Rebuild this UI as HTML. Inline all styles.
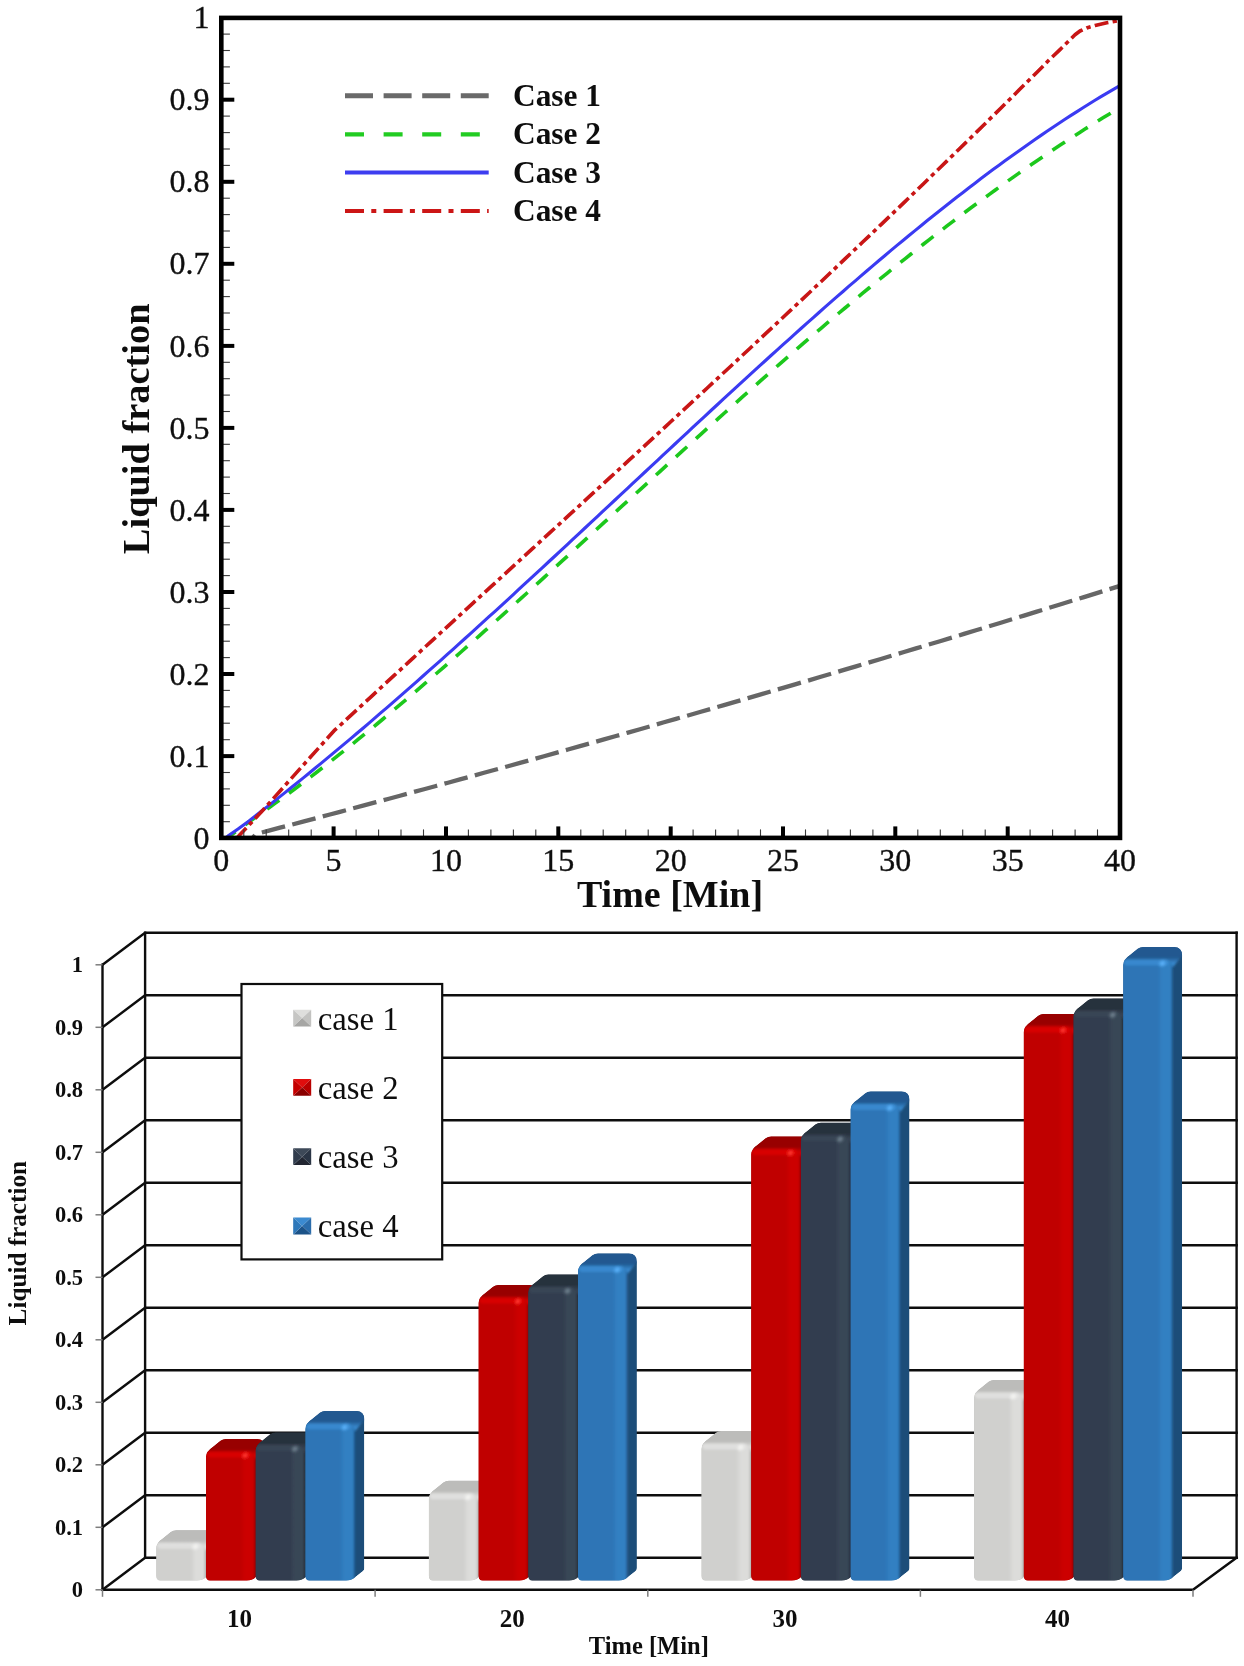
<!DOCTYPE html>
<html><head><meta charset="utf-8"><title>Liquid fraction</title>
<style>
html,body{margin:0;padding:0;background:#fff;}
body{width:1244px;height:1666px;overflow:hidden;font-family:"Liberation Serif",serif;}
svg{display:block;}
</style></head><body>
<svg width="1244" height="1666" viewBox="0 0 1244 1666">
<rect width="1244" height="1666" fill="#fff"/>
<defs><filter id="soft" x="0" y="0" width="100%" height="100%" filterUnits="objectBoundingBox"><feGaussianBlur stdDeviation="0.72"/></filter></defs>
<g filter="url(#soft)">
<rect width="1244" height="1666" fill="#fff"/>
<g id="top">
<clipPath id="pc"><rect x="221.3" y="17.9" width="898.7" height="820.0"/></clipPath>
<g clip-path="url(#pc)" fill="none" stroke-linecap="butt" stroke-linejoin="round">
<path d="M252.5,838.2 L256.0,834.0 L268.0,830.9 L280.0,827.7 L292.0,824.6 L304.0,821.4 L316.0,818.2 L328.0,815.0 L340.0,811.8 L352.0,808.6 L364.0,805.4 L376.0,802.2 L388.0,799.0 L400.0,795.7 L412.0,792.5 L424.0,789.2 L436.0,786.0 L448.0,782.7 L460.0,779.4 L472.0,776.1 L484.0,772.8 L496.0,769.5 L508.0,766.2 L520.0,762.9 L532.0,759.6 L544.0,756.2 L556.0,752.9 L568.0,749.5 L580.0,746.1 L592.0,742.8 L604.0,739.4 L616.0,736.0 L628.0,732.6 L640.0,729.2 L652.0,725.8 L664.0,722.3 L676.0,718.9 L688.0,715.5 L700.0,712.0 L712.0,708.6 L724.0,705.1 L736.0,701.6 L748.0,698.1 L760.0,694.6 L772.0,691.1 L784.0,687.6 L796.0,684.1 L808.0,680.6 L820.0,677.0 L832.0,673.5 L844.0,669.9 L856.0,666.4 L868.0,662.8 L880.0,659.2 L892.0,655.6 L904.0,652.0 L916.0,648.4 L928.0,644.8 L940.0,641.2 L952.0,637.6 L964.0,633.9 L976.0,630.3 L988.0,626.6 L1000.0,623.0 L1012.0,619.3 L1024.0,615.6 L1036.0,611.9 L1048.0,608.2 L1060.0,604.5 L1072.0,600.8 L1084.0,597.1 L1096.0,593.4 L1108.0,589.6 L1120.0,585.9" stroke="#666666" stroke-width="4.3" stroke-dasharray="24 7.5" stroke-dashoffset="20"/>
<path d="M226.5,838.2 L230.0,836.0 L240.0,828.6 L251.0,820.5 L257.0,816.3 L263.0,812.1 L269.0,807.8 L275.0,803.4 L281.0,799.1 L287.0,794.7 L293.0,790.2 L299.0,785.7 L305.0,781.2 L311.0,776.6 L317.0,772.0 L323.0,767.3 L329.0,762.7 L335.0,757.9 L341.0,753.2 L347.0,748.4 L353.0,743.6 L359.0,738.7 L365.0,733.8 L371.0,728.9 L377.0,724.0 L383.0,719.0 L389.0,714.0 L395.0,708.9 L401.0,703.9 L407.0,698.8 L413.0,693.7 L419.0,688.6 L425.0,683.4 L431.0,678.2 L437.0,673.0 L443.0,667.8 L449.0,662.6 L455.0,657.3 L461.0,652.0 L467.0,646.7 L473.0,641.4 L479.0,636.1 L485.0,630.7 L491.0,625.4 L497.0,620.0 L503.0,614.6 L509.0,609.2 L515.0,603.8 L521.0,598.4 L527.0,593.0 L533.0,587.5 L539.0,582.1 L545.0,576.6 L551.0,571.1 L557.0,565.7 L563.0,560.2 L569.0,554.7 L575.0,549.2 L581.0,543.7 L587.0,538.2 L593.0,532.7 L599.0,527.2 L605.0,521.7 L611.0,516.2 L617.0,510.7 L623.0,505.2 L629.0,499.7 L635.0,494.3 L641.0,488.8 L647.0,483.3 L653.0,477.8 L659.0,472.3 L665.0,466.8 L671.0,461.4 L677.0,455.9 L683.0,450.4 L689.0,445.0 L695.0,439.6 L701.0,434.1 L707.0,428.7 L713.0,423.3 L719.0,417.9 L725.0,412.5 L731.0,407.1 L737.0,401.8 L743.0,396.4 L749.0,391.1 L755.0,385.8 L761.0,380.4 L767.0,375.1 L773.0,369.9 L779.0,364.6 L785.0,359.4 L791.0,354.1 L797.0,348.9 L803.0,343.7 L809.0,338.6 L815.0,333.4 L821.0,328.3 L827.0,323.2 L833.0,318.1 L839.0,313.0 L845.0,308.0 L851.0,302.9 L857.0,297.9 L863.0,292.9 L869.0,288.0 L875.0,283.1 L881.0,278.2 L887.0,273.3 L893.0,268.4 L899.0,263.6 L905.0,258.8 L911.0,254.0 L917.0,249.3 L923.0,244.5 L929.0,239.8 L935.0,235.2 L941.0,230.6 L947.0,225.9 L953.0,221.4 L959.0,216.8 L965.0,212.3 L971.0,207.8 L977.0,203.4 L983.0,199.0 L989.0,194.6 L995.0,190.2 L1001.0,185.9 L1007.0,181.6 L1013.0,177.4 L1019.0,173.1 L1025.0,168.9 L1031.0,164.8 L1037.0,160.7 L1043.0,156.6 L1049.0,152.6 L1055.0,148.5 L1061.0,144.6 L1067.0,140.6 L1073.0,136.7 L1079.0,132.9 L1085.0,129.1 L1091.0,125.3 L1097.0,121.5 L1103.0,117.8 L1109.0,114.2 L1115.0,110.5" stroke="#1fc81f" stroke-width="3.6" stroke-dasharray="15 12" stroke-dashoffset="4"/>
<path d="M225.5,838.2 L228.6,835.5 L238.0,829.0 L249.0,820.9 L255.0,816.2 L261.0,811.6 L267.0,806.9 L273.0,802.2 L279.0,797.4 L285.0,792.6 L291.0,787.8 L297.0,783.0 L303.0,778.1 L309.0,773.2 L315.0,768.3 L321.0,763.4 L327.0,758.4 L333.0,753.4 L339.0,748.4 L345.0,743.4 L351.0,738.4 L357.0,733.3 L363.0,728.2 L369.0,723.1 L375.0,717.9 L381.0,712.7 L387.0,707.6 L393.0,702.4 L399.0,697.1 L405.0,691.9 L411.0,686.6 L417.0,681.3 L423.0,676.0 L429.0,670.7 L435.0,665.4 L441.0,660.1 L447.0,654.7 L453.0,649.3 L459.0,643.9 L465.0,638.5 L471.0,633.1 L477.0,627.6 L483.0,622.2 L489.0,616.7 L495.0,611.3 L501.0,605.8 L507.0,600.3 L513.0,594.8 L519.0,589.2 L525.0,583.7 L531.0,578.2 L537.0,572.6 L543.0,567.1 L549.0,561.5 L555.0,556.0 L561.0,550.4 L567.0,544.8 L573.0,539.2 L579.0,533.6 L585.0,528.0 L591.0,522.4 L597.0,516.8 L603.0,511.2 L609.0,505.6 L615.0,500.0 L621.0,494.4 L627.0,488.8 L633.0,483.2 L639.0,477.6 L645.0,472.0 L651.0,466.4 L657.0,460.8 L663.0,455.2 L669.0,449.6 L675.0,444.0 L681.0,438.4 L687.0,432.8 L693.0,427.2 L699.0,421.6 L705.0,416.1 L711.0,410.5 L717.0,405.0 L723.0,399.4 L729.0,393.9 L735.0,388.4 L741.0,382.9 L747.0,377.4 L753.0,371.9 L759.0,366.4 L765.0,361.0 L771.0,355.5 L777.0,350.1 L783.0,344.7 L789.0,339.3 L795.0,333.9 L801.0,328.5 L807.0,323.2 L813.0,317.8 L819.0,312.5 L825.0,307.2 L831.0,301.9 L837.0,296.7 L843.0,291.5 L849.0,286.2 L855.0,281.1 L861.0,275.9 L867.0,270.8 L873.0,265.6 L879.0,260.5 L885.0,255.5 L891.0,250.4 L897.0,245.4 L903.0,240.5 L909.0,235.5 L915.0,230.6 L921.0,225.7 L927.0,220.8 L933.0,216.0 L939.0,211.2 L945.0,206.5 L951.0,201.7 L957.0,197.0 L963.0,192.4 L969.0,187.7 L975.0,183.2 L981.0,178.6 L987.0,174.1 L993.0,169.6 L999.0,165.2 L1005.0,160.8 L1011.0,156.5 L1017.0,152.2 L1023.0,147.9 L1029.0,143.7 L1035.0,139.5 L1041.0,135.4 L1047.0,131.3 L1053.0,127.2 L1059.0,123.3 L1065.0,119.3 L1071.0,115.4 L1077.0,111.6 L1083.0,107.8 L1089.0,104.0 L1095.0,100.3 L1101.0,96.7 L1107.0,93.1 L1113.0,89.6 L1119.0,86.1" stroke="#3a3af2" stroke-width="3.1"/>
<path d="M236.8,838.2 L240.1,834.5 L261.0,812.3 L291.6,778.1 L318.1,748.6 L335.0,729.8 L341.0,724.5 L347.0,718.9 L353.0,713.4 L359.0,707.9 L365.0,702.3 L371.0,696.8 L377.0,691.3 L383.0,685.7 L389.0,680.2 L395.0,674.7 L401.0,669.2 L407.0,663.7 L413.0,658.1 L419.0,652.6 L425.0,647.1 L431.0,641.6 L437.0,636.1 L443.0,630.6 L449.0,625.1 L455.0,619.6 L461.0,614.1 L467.0,608.6 L473.0,603.1 L479.0,597.6 L485.0,592.1 L491.0,586.6 L497.0,581.2 L503.0,575.7 L509.0,570.2 L515.0,564.7 L521.0,559.2 L527.0,553.7 L533.0,548.2 L539.0,542.7 L545.0,537.2 L551.0,531.7 L557.0,526.2 L563.0,520.7 L569.0,515.2 L575.0,509.7 L581.0,504.2 L587.0,498.7 L593.0,493.2 L599.0,487.7 L605.0,482.2 L611.0,476.7 L617.0,471.2 L623.0,465.7 L629.0,460.2 L635.0,454.7 L641.0,449.2 L647.0,443.6 L653.0,438.1 L659.0,432.6 L665.0,427.1 L671.0,421.5 L677.0,416.0 L683.0,410.4 L689.0,404.9 L695.0,399.3 L701.0,393.8 L707.0,388.2 L713.0,382.7 L719.0,377.1 L725.0,371.5 L731.0,366.0 L737.0,360.4 L743.0,354.8 L749.0,349.2 L755.0,343.6 L761.0,338.0 L767.0,332.4 L773.0,326.8 L779.0,321.2 L785.0,315.5 L791.0,309.9 L797.0,304.3 L803.0,298.6 L809.0,293.0 L815.0,287.3 L821.0,281.7 L827.0,276.0 L833.0,270.3 L839.0,264.6 L845.0,258.9 L851.0,253.2 L857.0,247.5 L863.0,241.8 L869.0,236.1 L875.0,230.4 L881.0,224.6 L887.0,218.9 L893.0,213.1 L899.0,207.4 L905.0,201.6 L911.0,195.8 L917.0,190.0 L923.0,184.2 L929.0,178.4 L935.0,172.6 L941.0,166.8 L947.0,160.9 L953.0,155.1 L959.0,149.2 L965.0,143.4 L971.0,137.5 L977.0,131.6 L983.0,125.7 L989.0,119.8 L995.0,113.9 L1001.0,108.0 L1007.0,102.0 L1013.0,96.1 L1019.0,90.1 L1025.0,84.1 L1031.0,78.2 L1037.0,72.2 L1043.0,66.2 L1049.0,60.1 L1060.0,49.6 L1070.2,39.5 L1075.0,34.8 L1080.0,31.0 L1086.6,28.0 L1095.2,25.4 L1106.8,22.7 L1120.0,20.3" stroke="#c81212" stroke-width="3.6" stroke-dasharray="14 4.3 4.3 4.3"/>
</g>
<g stroke="#000">
<line x1="221.3" y1="821.7" x2="229.9" y2="821.7" stroke-width="1.1" stroke="#3a3a3a"/>
<line x1="221.3" y1="805.3" x2="229.9" y2="805.3" stroke-width="1.1" stroke="#3a3a3a"/>
<line x1="221.3" y1="788.9" x2="229.9" y2="788.9" stroke-width="1.1" stroke="#3a3a3a"/>
<line x1="221.3" y1="772.5" x2="229.9" y2="772.5" stroke-width="1.1" stroke="#3a3a3a"/>
<line x1="221.3" y1="756.1" x2="234.3" y2="756.1" stroke-width="4"/>
<line x1="221.3" y1="739.7" x2="229.9" y2="739.7" stroke-width="1.1" stroke="#3a3a3a"/>
<line x1="221.3" y1="723.2" x2="229.9" y2="723.2" stroke-width="1.1" stroke="#3a3a3a"/>
<line x1="221.3" y1="706.8" x2="229.9" y2="706.8" stroke-width="1.1" stroke="#3a3a3a"/>
<line x1="221.3" y1="690.4" x2="229.9" y2="690.4" stroke-width="1.1" stroke="#3a3a3a"/>
<line x1="221.3" y1="674.0" x2="234.3" y2="674.0" stroke-width="4"/>
<line x1="221.3" y1="657.6" x2="229.9" y2="657.6" stroke-width="1.1" stroke="#3a3a3a"/>
<line x1="221.3" y1="641.2" x2="229.9" y2="641.2" stroke-width="1.1" stroke="#3a3a3a"/>
<line x1="221.3" y1="624.8" x2="229.9" y2="624.8" stroke-width="1.1" stroke="#3a3a3a"/>
<line x1="221.3" y1="608.4" x2="229.9" y2="608.4" stroke-width="1.1" stroke="#3a3a3a"/>
<line x1="221.3" y1="592.0" x2="234.3" y2="592.0" stroke-width="4"/>
<line x1="221.3" y1="575.6" x2="229.9" y2="575.6" stroke-width="1.1" stroke="#3a3a3a"/>
<line x1="221.3" y1="559.2" x2="229.9" y2="559.2" stroke-width="1.1" stroke="#3a3a3a"/>
<line x1="221.3" y1="542.8" x2="229.9" y2="542.8" stroke-width="1.1" stroke="#3a3a3a"/>
<line x1="221.3" y1="526.3" x2="229.9" y2="526.3" stroke-width="1.1" stroke="#3a3a3a"/>
<line x1="221.3" y1="509.9" x2="234.3" y2="509.9" stroke-width="4"/>
<line x1="221.3" y1="493.5" x2="229.9" y2="493.5" stroke-width="1.1" stroke="#3a3a3a"/>
<line x1="221.3" y1="477.1" x2="229.9" y2="477.1" stroke-width="1.1" stroke="#3a3a3a"/>
<line x1="221.3" y1="460.7" x2="229.9" y2="460.7" stroke-width="1.1" stroke="#3a3a3a"/>
<line x1="221.3" y1="444.3" x2="229.9" y2="444.3" stroke-width="1.1" stroke="#3a3a3a"/>
<line x1="221.3" y1="427.9" x2="234.3" y2="427.9" stroke-width="4"/>
<line x1="221.3" y1="411.5" x2="229.9" y2="411.5" stroke-width="1.1" stroke="#3a3a3a"/>
<line x1="221.3" y1="395.1" x2="229.9" y2="395.1" stroke-width="1.1" stroke="#3a3a3a"/>
<line x1="221.3" y1="378.7" x2="229.9" y2="378.7" stroke-width="1.1" stroke="#3a3a3a"/>
<line x1="221.3" y1="362.3" x2="229.9" y2="362.3" stroke-width="1.1" stroke="#3a3a3a"/>
<line x1="221.3" y1="345.9" x2="234.3" y2="345.9" stroke-width="4"/>
<line x1="221.3" y1="329.5" x2="229.9" y2="329.5" stroke-width="1.1" stroke="#3a3a3a"/>
<line x1="221.3" y1="313.0" x2="229.9" y2="313.0" stroke-width="1.1" stroke="#3a3a3a"/>
<line x1="221.3" y1="296.6" x2="229.9" y2="296.6" stroke-width="1.1" stroke="#3a3a3a"/>
<line x1="221.3" y1="280.2" x2="229.9" y2="280.2" stroke-width="1.1" stroke="#3a3a3a"/>
<line x1="221.3" y1="263.8" x2="234.3" y2="263.8" stroke-width="4"/>
<line x1="221.3" y1="247.4" x2="229.9" y2="247.4" stroke-width="1.1" stroke="#3a3a3a"/>
<line x1="221.3" y1="231.0" x2="229.9" y2="231.0" stroke-width="1.1" stroke="#3a3a3a"/>
<line x1="221.3" y1="214.6" x2="229.9" y2="214.6" stroke-width="1.1" stroke="#3a3a3a"/>
<line x1="221.3" y1="198.2" x2="229.9" y2="198.2" stroke-width="1.1" stroke="#3a3a3a"/>
<line x1="221.3" y1="181.8" x2="234.3" y2="181.8" stroke-width="4"/>
<line x1="221.3" y1="165.4" x2="229.9" y2="165.4" stroke-width="1.1" stroke="#3a3a3a"/>
<line x1="221.3" y1="149.0" x2="229.9" y2="149.0" stroke-width="1.1" stroke="#3a3a3a"/>
<line x1="221.3" y1="132.6" x2="229.9" y2="132.6" stroke-width="1.1" stroke="#3a3a3a"/>
<line x1="221.3" y1="116.1" x2="229.9" y2="116.1" stroke-width="1.1" stroke="#3a3a3a"/>
<line x1="221.3" y1="99.7" x2="234.3" y2="99.7" stroke-width="4"/>
<line x1="221.3" y1="83.3" x2="229.9" y2="83.3" stroke-width="1.1" stroke="#3a3a3a"/>
<line x1="221.3" y1="66.9" x2="229.9" y2="66.9" stroke-width="1.1" stroke="#3a3a3a"/>
<line x1="221.3" y1="50.5" x2="229.9" y2="50.5" stroke-width="1.1" stroke="#3a3a3a"/>
<line x1="221.3" y1="34.1" x2="229.9" y2="34.1" stroke-width="1.1" stroke="#3a3a3a"/>
<line x1="243.8" y1="837.9" x2="243.8" y2="829.4" stroke-width="1.1" stroke="#3a3a3a"/>
<line x1="266.2" y1="837.9" x2="266.2" y2="829.4" stroke-width="1.1" stroke="#3a3a3a"/>
<line x1="288.7" y1="837.9" x2="288.7" y2="829.4" stroke-width="1.1" stroke="#3a3a3a"/>
<line x1="311.2" y1="837.9" x2="311.2" y2="829.4" stroke-width="1.1" stroke="#3a3a3a"/>
<line x1="333.6" y1="837.9" x2="333.6" y2="826.4" stroke-width="4"/>
<line x1="356.1" y1="837.9" x2="356.1" y2="829.4" stroke-width="1.1" stroke="#3a3a3a"/>
<line x1="378.6" y1="837.9" x2="378.6" y2="829.4" stroke-width="1.1" stroke="#3a3a3a"/>
<line x1="401.0" y1="837.9" x2="401.0" y2="829.4" stroke-width="1.1" stroke="#3a3a3a"/>
<line x1="423.5" y1="837.9" x2="423.5" y2="829.4" stroke-width="1.1" stroke="#3a3a3a"/>
<line x1="446.0" y1="837.9" x2="446.0" y2="826.4" stroke-width="4"/>
<line x1="468.4" y1="837.9" x2="468.4" y2="829.4" stroke-width="1.1" stroke="#3a3a3a"/>
<line x1="490.9" y1="837.9" x2="490.9" y2="829.4" stroke-width="1.1" stroke="#3a3a3a"/>
<line x1="513.4" y1="837.9" x2="513.4" y2="829.4" stroke-width="1.1" stroke="#3a3a3a"/>
<line x1="535.8" y1="837.9" x2="535.8" y2="829.4" stroke-width="1.1" stroke="#3a3a3a"/>
<line x1="558.3" y1="837.9" x2="558.3" y2="826.4" stroke-width="4"/>
<line x1="580.8" y1="837.9" x2="580.8" y2="829.4" stroke-width="1.1" stroke="#3a3a3a"/>
<line x1="603.2" y1="837.9" x2="603.2" y2="829.4" stroke-width="1.1" stroke="#3a3a3a"/>
<line x1="625.7" y1="837.9" x2="625.7" y2="829.4" stroke-width="1.1" stroke="#3a3a3a"/>
<line x1="648.2" y1="837.9" x2="648.2" y2="829.4" stroke-width="1.1" stroke="#3a3a3a"/>
<line x1="670.7" y1="837.9" x2="670.7" y2="826.4" stroke-width="4"/>
<line x1="693.1" y1="837.9" x2="693.1" y2="829.4" stroke-width="1.1" stroke="#3a3a3a"/>
<line x1="715.6" y1="837.9" x2="715.6" y2="829.4" stroke-width="1.1" stroke="#3a3a3a"/>
<line x1="738.1" y1="837.9" x2="738.1" y2="829.4" stroke-width="1.1" stroke="#3a3a3a"/>
<line x1="760.5" y1="837.9" x2="760.5" y2="829.4" stroke-width="1.1" stroke="#3a3a3a"/>
<line x1="783.0" y1="837.9" x2="783.0" y2="826.4" stroke-width="4"/>
<line x1="805.5" y1="837.9" x2="805.5" y2="829.4" stroke-width="1.1" stroke="#3a3a3a"/>
<line x1="827.9" y1="837.9" x2="827.9" y2="829.4" stroke-width="1.1" stroke="#3a3a3a"/>
<line x1="850.4" y1="837.9" x2="850.4" y2="829.4" stroke-width="1.1" stroke="#3a3a3a"/>
<line x1="872.9" y1="837.9" x2="872.9" y2="829.4" stroke-width="1.1" stroke="#3a3a3a"/>
<line x1="895.3" y1="837.9" x2="895.3" y2="826.4" stroke-width="4"/>
<line x1="917.8" y1="837.9" x2="917.8" y2="829.4" stroke-width="1.1" stroke="#3a3a3a"/>
<line x1="940.3" y1="837.9" x2="940.3" y2="829.4" stroke-width="1.1" stroke="#3a3a3a"/>
<line x1="962.7" y1="837.9" x2="962.7" y2="829.4" stroke-width="1.1" stroke="#3a3a3a"/>
<line x1="985.2" y1="837.9" x2="985.2" y2="829.4" stroke-width="1.1" stroke="#3a3a3a"/>
<line x1="1007.7" y1="837.9" x2="1007.7" y2="826.4" stroke-width="4"/>
<line x1="1030.1" y1="837.9" x2="1030.1" y2="829.4" stroke-width="1.1" stroke="#3a3a3a"/>
<line x1="1052.6" y1="837.9" x2="1052.6" y2="829.4" stroke-width="1.1" stroke="#3a3a3a"/>
<line x1="1075.1" y1="837.9" x2="1075.1" y2="829.4" stroke-width="1.1" stroke="#3a3a3a"/>
<line x1="1097.5" y1="837.9" x2="1097.5" y2="829.4" stroke-width="1.1" stroke="#3a3a3a"/>
</g>
<rect x="221.3" y="17.9" width="898.7" height="820.0" fill="none" stroke="#000" stroke-width="4.6"/>
<g font-family='"Liberation Serif", serif' font-size="32" fill="#111" stroke="#111" stroke-width="0.35">
<text x="209.5" y="848.7" text-anchor="end">0</text>
<text x="209.5" y="766.7" text-anchor="end">0.1</text>
<text x="209.5" y="684.6" text-anchor="end">0.2</text>
<text x="209.5" y="602.6" text-anchor="end">0.3</text>
<text x="209.5" y="520.5" text-anchor="end">0.4</text>
<text x="209.5" y="438.5" text-anchor="end">0.5</text>
<text x="209.5" y="356.5" text-anchor="end">0.6</text>
<text x="209.5" y="274.4" text-anchor="end">0.7</text>
<text x="209.5" y="192.4" text-anchor="end">0.8</text>
<text x="209.5" y="110.3" text-anchor="end">0.9</text>
<text x="209.5" y="28.3" text-anchor="end">1</text>
<text x="221.3" y="871.3" text-anchor="middle">0</text>
<text x="333.6" y="871.3" text-anchor="middle">5</text>
<text x="446.0" y="871.3" text-anchor="middle">10</text>
<text x="558.3" y="871.3" text-anchor="middle">15</text>
<text x="670.7" y="871.3" text-anchor="middle">20</text>
<text x="783.0" y="871.3" text-anchor="middle">25</text>
<text x="895.3" y="871.3" text-anchor="middle">30</text>
<text x="1007.7" y="871.3" text-anchor="middle">35</text>
<text x="1120.0" y="871.3" text-anchor="middle">40</text>
</g>
<text x="670" y="907" text-anchor="middle" font-family='"Liberation Serif", serif' font-weight="bold" font-size="38" fill="#111">Time [Min]</text>
<text transform="translate(148.6,428.8) rotate(-90)" text-anchor="middle" font-family='"Liberation Serif", serif' font-weight="bold" font-size="38.4" fill="#111">Liquid fraction</text>
<g fill="none">
<line x1="345.0" x2="488.7" y1="95.8" y2="95.8" stroke="#6a6a6a" stroke-width="5" stroke-dasharray="28 10.6"/>
<line x1="345.0" x2="488.7" y1="134.4" y2="134.4" stroke="#22cc22" stroke-width="4.2" stroke-dasharray="19 19.6"/>
<line x1="345.0" x2="488.7" y1="172.5" y2="172.5" stroke="#3c3cf0" stroke-width="4.2"/>
<line x1="345.0" x2="488.7" y1="211" y2="211" stroke="#cc1414" stroke-width="4.2" stroke-dasharray="19 7.3 5 7.3"/>
</g>
<g font-family='"Liberation Serif", serif' font-weight="bold" font-size="31.4" fill="#111">
<text x="513" y="106.2">Case 1</text>
<text x="513" y="144.4">Case 2</text>
<text x="513" y="182.6">Case 3</text>
<text x="513" y="220.8">Case 4</text>
</g>
</g>
<g id="bot">
<g stroke="#0d0d0d" stroke-width="2.4" fill="none" stroke-linecap="square">
<path d="M102.5,1589.8 L145.1,1557.8 L1236.6,1557.8"/>
<path d="M102.5,1527.3 L145.1,1495.3 L1236.6,1495.3"/>
<path d="M102.5,1464.8 L145.1,1432.8 L1236.6,1432.8"/>
<path d="M102.5,1402.3 L145.1,1370.3 L1236.6,1370.3"/>
<path d="M102.5,1339.8 L145.1,1307.8 L1236.6,1307.8"/>
<path d="M102.5,1277.3 L145.1,1245.3 L1236.6,1245.3"/>
<path d="M102.5,1214.8 L145.1,1182.8 L1236.6,1182.8"/>
<path d="M102.5,1152.3 L145.1,1120.3 L1236.6,1120.3"/>
<path d="M102.5,1089.8 L145.1,1057.8 L1236.6,1057.8"/>
<path d="M102.5,1027.3 L145.1,995.3 L1236.6,995.3"/>
<path d="M102.5,964.8 L145.1,932.8 L1236.6,932.8"/>
<line x1="102.5" y1="1589.8" x2="102.5" y2="964.8"/>
<line x1="145.1" y1="1557.8" x2="145.1" y2="932.8"/>
<line x1="1236.6" y1="1557.8" x2="1236.6" y2="932.8"/>
<path d="M102.5,1589.8 L1193.0,1589.8 L1236.6,1557.8"/>
</g>
<g stroke="#7d7d7d" stroke-width="1.5">
<line x1="95.5" y1="1589.8" x2="102.5" y2="1589.8"/>
<line x1="95.5" y1="1527.3" x2="102.5" y2="1527.3"/>
<line x1="95.5" y1="1464.8" x2="102.5" y2="1464.8"/>
<line x1="95.5" y1="1402.3" x2="102.5" y2="1402.3"/>
<line x1="95.5" y1="1339.8" x2="102.5" y2="1339.8"/>
<line x1="95.5" y1="1277.3" x2="102.5" y2="1277.3"/>
<line x1="95.5" y1="1214.8" x2="102.5" y2="1214.8"/>
<line x1="95.5" y1="1152.3" x2="102.5" y2="1152.3"/>
<line x1="95.5" y1="1089.8" x2="102.5" y2="1089.8"/>
<line x1="95.5" y1="1027.3" x2="102.5" y2="1027.3"/>
<line x1="95.5" y1="964.8" x2="102.5" y2="964.8"/>
<line x1="102.5" y1="1589.8" x2="102.5" y2="1596.8"/>
<line x1="375.1" y1="1589.8" x2="375.1" y2="1596.8"/>
<line x1="647.8" y1="1589.8" x2="647.8" y2="1596.8"/>
<line x1="920.4" y1="1589.8" x2="920.4" y2="1596.8"/>
<line x1="1193.0" y1="1589.8" x2="1193.0" y2="1596.8"/>
</g>
<defs>
<linearGradient id="fg0" x1="0" x2="1" y1="0" y2="0"><stop offset="0" stop-color="#e6e6e4"/><stop offset="0.06" stop-color="#d0d0ce"/><stop offset="0.72" stop-color="#d0d0ce"/><stop offset="0.81" stop-color="#dcdcda"/><stop offset="0.96" stop-color="#dcdcda"/><stop offset="1" stop-color="#b8b8b6"/></linearGradient>
<linearGradient id="tg0" x1="0" x2="0" y1="0" y2="1"><stop offset="0" stop-color="#bcbcba"/><stop offset="0.55" stop-color="#bcbcba"/><stop offset="0.8" stop-color="#e2e2e0"/><stop offset="1" stop-color="#d0d0ce"/></linearGradient>
<linearGradient id="fg1" x1="0" x2="1" y1="0" y2="0"><stop offset="0" stop-color="#b00000"/><stop offset="0.06" stop-color="#c00000"/><stop offset="0.72" stop-color="#c00000"/><stop offset="0.81" stop-color="#cc0000"/><stop offset="0.96" stop-color="#cc0000"/><stop offset="1" stop-color="#a00000"/></linearGradient>
<linearGradient id="tg1" x1="0" x2="0" y1="0" y2="1"><stop offset="0" stop-color="#980000"/><stop offset="0.55" stop-color="#980000"/><stop offset="0.8" stop-color="#dc0404"/><stop offset="1" stop-color="#c00000"/></linearGradient>
<linearGradient id="fg2" x1="0" x2="1" y1="0" y2="0"><stop offset="0" stop-color="#2c3746"/><stop offset="0.06" stop-color="#323e4f"/><stop offset="0.72" stop-color="#323e4f"/><stop offset="0.81" stop-color="#394656"/><stop offset="0.96" stop-color="#394656"/><stop offset="1" stop-color="#28323e"/></linearGradient>
<linearGradient id="tg2" x1="0" x2="0" y1="0" y2="1"><stop offset="0" stop-color="#28323e"/><stop offset="0.55" stop-color="#28323e"/><stop offset="0.8" stop-color="#3a4656"/><stop offset="1" stop-color="#323e4f"/></linearGradient>
<linearGradient id="fg3" x1="0" x2="1" y1="0" y2="0"><stop offset="0" stop-color="#2a6cab"/><stop offset="0.06" stop-color="#2e75b6"/><stop offset="0.72" stop-color="#2e75b6"/><stop offset="0.81" stop-color="#3180c2"/><stop offset="0.96" stop-color="#3180c2"/><stop offset="1" stop-color="#245f98"/></linearGradient>
<linearGradient id="tg3" x1="0" x2="0" y1="0" y2="1"><stop offset="0" stop-color="#215990"/><stop offset="0.55" stop-color="#215990"/><stop offset="0.8" stop-color="#3a8cd2"/><stop offset="1" stop-color="#2e75b6"/></linearGradient>
<filter id="bl" x="-5%" y="-5%" width="110%" height="110%"><feGaussianBlur stdDeviation="0.9"/></filter>
<filter id="bl2" x="-50%" y="-50%" width="200%" height="200%"><feGaussianBlur stdDeviation="1.5"/></filter>
<filter id="bl3" x="-20%" y="-5%" width="140%" height="110%"><feGaussianBlur stdDeviation="1.1"/></filter>
</defs>
<clipPath id="cb1"><path d="M156.3,1575.7 L156.3,1548.2 Q156.3,1542.7 162.8,1538.5 L170.8,1532.0 Q173.1,1530.2 176.3,1530.2 L207.2,1530.2 Q215.2,1530.2 215.2,1538.7 L215.2,1568.2 Q215.2,1570.2 213.7,1571.3 L207.0,1576.5 Q203.0,1580.4 197.0,1580.4 L160.3,1580.4 Q156.3,1580.4 156.3,1575.7 Z"/></clipPath>
<g clip-path="url(#cb1)">
<path d="M156.3,1575.7 L156.3,1548.2 Q156.3,1542.7 162.8,1538.5 L170.8,1532.0 Q173.1,1530.2 176.3,1530.2 L207.2,1530.2 Q215.2,1530.2 215.2,1538.7 L215.2,1568.2 Q215.2,1570.2 213.7,1571.3 L207.0,1576.5 Q203.0,1580.4 197.0,1580.4 L160.3,1580.4 Q156.3,1580.4 156.3,1575.7 Z" fill="#a8a8a6"/>
<g filter="url(#bl3)">
<path d="M152.3,1552.2 L152.3,1526.2 L219.2,1526.2 L219.2,1533.7 L205.5,1551.2 Z" fill="url(#tg0)"/>
<path d="M152.3,1584.7 L152.3,1551.2 Q152.3,1544.7 160.3,1544.7 L200.0,1544.7 Q205.7,1544.7 205.7,1551.2 L205.7,1584.7 Z" fill="url(#fg0)"/>
<rect x="157.3" y="1542.7" width="44.7" height="6" rx="3" fill="#e2e2e0" opacity="0.85"/>
</g>
<ellipse cx="195.5" cy="1546.6" rx="3.0" ry="2.4" fill="#f4f4f2" filter="url(#bl2)" transform="rotate(-35 195.5 1546.6)"/>
</g>
<clipPath id="cb2"><path d="M206.0,1575.7 L206.0,1457.0 Q206.0,1451.5 212.5,1447.3 L220.5,1440.8 Q222.8,1439.0 226.0,1439.0 L256.9,1439.0 Q264.9,1439.0 264.9,1447.5 L264.9,1568.2 Q264.9,1570.2 263.4,1571.3 L256.7,1576.5 Q252.7,1580.4 246.7,1580.4 L210.0,1580.4 Q206.0,1580.4 206.0,1575.7 Z"/></clipPath>
<g clip-path="url(#cb2)">
<path d="M206.0,1575.7 L206.0,1457.0 Q206.0,1451.5 212.5,1447.3 L220.5,1440.8 Q222.8,1439.0 226.0,1439.0 L256.9,1439.0 Q264.9,1439.0 264.9,1447.5 L264.9,1568.2 Q264.9,1570.2 263.4,1571.3 L256.7,1576.5 Q252.7,1580.4 246.7,1580.4 L210.0,1580.4 Q206.0,1580.4 206.0,1575.7 Z" fill="#8a0000"/>
<g filter="url(#bl3)">
<path d="M202.0,1461.0 L202.0,1435.0 L268.9,1435.0 L268.9,1442.5 L255.2,1460.0 Z" fill="url(#tg1)"/>
<path d="M202.0,1584.7 L202.0,1460.0 Q202.0,1453.5 210.0,1453.5 L249.7,1453.5 Q255.4,1453.5 255.4,1460.0 L255.4,1584.7 Z" fill="url(#fg1)"/>
<rect x="207.0" y="1451.5" width="44.7" height="6" rx="3" fill="#dc0404" opacity="0.85"/>
</g>
<ellipse cx="245.2" cy="1455.4" rx="3.0" ry="2.4" fill="#ff3a30" filter="url(#bl2)" transform="rotate(-35 245.2 1455.4)"/>
</g>
<clipPath id="cb3"><path d="M255.7,1575.7 L255.7,1450.5 Q255.7,1445.0 262.2,1440.8 L270.2,1434.3 Q272.5,1432.5 275.7,1432.5 L306.6,1432.5 Q314.6,1432.5 314.6,1441.0 L314.6,1568.2 Q314.6,1570.2 313.1,1571.3 L306.4,1576.5 Q302.4,1580.4 296.4,1580.4 L259.7,1580.4 Q255.7,1580.4 255.7,1575.7 Z"/></clipPath>
<g clip-path="url(#cb3)">
<path d="M255.7,1575.7 L255.7,1450.5 Q255.7,1445.0 262.2,1440.8 L270.2,1434.3 Q272.5,1432.5 275.7,1432.5 L306.6,1432.5 Q314.6,1432.5 314.6,1441.0 L314.6,1568.2 Q314.6,1570.2 313.1,1571.3 L306.4,1576.5 Q302.4,1580.4 296.4,1580.4 L259.7,1580.4 Q255.7,1580.4 255.7,1575.7 Z" fill="#242c38"/>
<g filter="url(#bl3)">
<path d="M251.7,1454.5 L251.7,1428.5 L318.6,1428.5 L318.6,1436.0 L304.9,1453.5 Z" fill="url(#tg2)"/>
<path d="M251.7,1584.7 L251.7,1453.5 Q251.7,1447.0 259.7,1447.0 L299.4,1447.0 Q305.1,1447.0 305.1,1453.5 L305.1,1584.7 Z" fill="url(#fg2)"/>
<rect x="256.7" y="1445.0" width="44.7" height="6" rx="3" fill="#3a4656" opacity="0.85"/>
</g>
<ellipse cx="294.9" cy="1448.9" rx="3.0" ry="2.4" fill="#70808e" filter="url(#bl2)" transform="rotate(-35 294.9 1448.9)"/>
</g>
<clipPath id="cb4"><path d="M305.4,1575.7 L305.4,1428.9 Q305.4,1423.4 311.9,1419.2 L319.9,1412.7 Q322.2,1410.9 325.4,1410.9 L356.3,1410.9 Q364.3,1410.9 364.3,1419.4 L364.3,1568.2 Q364.3,1570.2 362.8,1571.3 L356.1,1576.5 Q352.1,1580.4 346.1,1580.4 L309.4,1580.4 Q305.4,1580.4 305.4,1575.7 Z"/></clipPath>
<g clip-path="url(#cb4)">
<path d="M305.4,1575.7 L305.4,1428.9 Q305.4,1423.4 311.9,1419.2 L319.9,1412.7 Q322.2,1410.9 325.4,1410.9 L356.3,1410.9 Q364.3,1410.9 364.3,1419.4 L364.3,1568.2 Q364.3,1570.2 362.8,1571.3 L356.1,1576.5 Q352.1,1580.4 346.1,1580.4 L309.4,1580.4 Q305.4,1580.4 305.4,1575.7 Z" fill="#1f4e79"/>
<g filter="url(#bl3)">
<path d="M301.4,1432.9 L301.4,1406.9 L368.3,1406.9 L368.3,1414.4 L354.6,1431.9 Z" fill="url(#tg3)"/>
<path d="M301.4,1584.7 L301.4,1431.9 Q301.4,1425.4 309.4,1425.4 L349.1,1425.4 Q354.8,1425.4 354.8,1431.9 L354.8,1584.7 Z" fill="url(#fg3)"/>
<rect x="306.4" y="1423.4" width="44.7" height="6" rx="3" fill="#3a8cd2" opacity="0.85"/>
</g>
<ellipse cx="344.6" cy="1427.3" rx="3.0" ry="2.4" fill="#5cb2fa" filter="url(#bl2)" transform="rotate(-35 344.6 1427.3)"/>
</g>
<clipPath id="cb5"><path d="M428.9,1575.7 L428.9,1498.8 Q428.9,1493.3 435.4,1489.1 L443.4,1482.6 Q445.7,1480.8 448.9,1480.8 L479.8,1480.8 Q487.8,1480.8 487.8,1489.3 L487.8,1568.2 Q487.8,1570.2 486.3,1571.3 L479.6,1576.5 Q475.6,1580.4 469.6,1580.4 L432.9,1580.4 Q428.9,1580.4 428.9,1575.7 Z"/></clipPath>
<g clip-path="url(#cb5)">
<path d="M428.9,1575.7 L428.9,1498.8 Q428.9,1493.3 435.4,1489.1 L443.4,1482.6 Q445.7,1480.8 448.9,1480.8 L479.8,1480.8 Q487.8,1480.8 487.8,1489.3 L487.8,1568.2 Q487.8,1570.2 486.3,1571.3 L479.6,1576.5 Q475.6,1580.4 469.6,1580.4 L432.9,1580.4 Q428.9,1580.4 428.9,1575.7 Z" fill="#a8a8a6"/>
<g filter="url(#bl3)">
<path d="M424.9,1502.8 L424.9,1476.8 L491.8,1476.8 L491.8,1484.3 L478.1,1501.8 Z" fill="url(#tg0)"/>
<path d="M424.9,1584.7 L424.9,1501.8 Q424.9,1495.3 432.9,1495.3 L472.6,1495.3 Q478.3,1495.3 478.3,1501.8 L478.3,1584.7 Z" fill="url(#fg0)"/>
<rect x="429.9" y="1493.3" width="44.7" height="6" rx="3" fill="#e2e2e0" opacity="0.85"/>
</g>
<ellipse cx="468.1" cy="1497.2" rx="3.0" ry="2.4" fill="#f4f4f2" filter="url(#bl2)" transform="rotate(-35 468.1 1497.2)"/>
</g>
<clipPath id="cb6"><path d="M478.6,1575.7 L478.6,1303.0 Q478.6,1297.5 485.1,1293.3 L493.1,1286.8 Q495.4,1285.0 498.6,1285.0 L529.5,1285.0 Q537.5,1285.0 537.5,1293.5 L537.5,1568.2 Q537.5,1570.2 536.0,1571.3 L529.3,1576.5 Q525.3,1580.4 519.3,1580.4 L482.6,1580.4 Q478.6,1580.4 478.6,1575.7 Z"/></clipPath>
<g clip-path="url(#cb6)">
<path d="M478.6,1575.7 L478.6,1303.0 Q478.6,1297.5 485.1,1293.3 L493.1,1286.8 Q495.4,1285.0 498.6,1285.0 L529.5,1285.0 Q537.5,1285.0 537.5,1293.5 L537.5,1568.2 Q537.5,1570.2 536.0,1571.3 L529.3,1576.5 Q525.3,1580.4 519.3,1580.4 L482.6,1580.4 Q478.6,1580.4 478.6,1575.7 Z" fill="#8a0000"/>
<g filter="url(#bl3)">
<path d="M474.6,1307.0 L474.6,1281.0 L541.5,1281.0 L541.5,1288.5 L527.8,1306.0 Z" fill="url(#tg1)"/>
<path d="M474.6,1584.7 L474.6,1306.0 Q474.6,1299.5 482.6,1299.5 L522.3,1299.5 Q528.0,1299.5 528.0,1306.0 L528.0,1584.7 Z" fill="url(#fg1)"/>
<rect x="479.6" y="1297.5" width="44.7" height="6" rx="3" fill="#dc0404" opacity="0.85"/>
</g>
<ellipse cx="517.8" cy="1301.4" rx="3.0" ry="2.4" fill="#ff3a30" filter="url(#bl2)" transform="rotate(-35 517.8 1301.4)"/>
</g>
<clipPath id="cb7"><path d="M528.3,1575.7 L528.3,1292.6 Q528.3,1287.1 534.8,1282.9 L542.8,1276.4 Q545.1,1274.6 548.3,1274.6 L579.2,1274.6 Q587.2,1274.6 587.2,1283.1 L587.2,1568.2 Q587.2,1570.2 585.7,1571.3 L579.0,1576.5 Q575.0,1580.4 569.0,1580.4 L532.3,1580.4 Q528.3,1580.4 528.3,1575.7 Z"/></clipPath>
<g clip-path="url(#cb7)">
<path d="M528.3,1575.7 L528.3,1292.6 Q528.3,1287.1 534.8,1282.9 L542.8,1276.4 Q545.1,1274.6 548.3,1274.6 L579.2,1274.6 Q587.2,1274.6 587.2,1283.1 L587.2,1568.2 Q587.2,1570.2 585.7,1571.3 L579.0,1576.5 Q575.0,1580.4 569.0,1580.4 L532.3,1580.4 Q528.3,1580.4 528.3,1575.7 Z" fill="#242c38"/>
<g filter="url(#bl3)">
<path d="M524.3,1296.6 L524.3,1270.6 L591.2,1270.6 L591.2,1278.1 L577.5,1295.6 Z" fill="url(#tg2)"/>
<path d="M524.3,1584.7 L524.3,1295.6 Q524.3,1289.1 532.3,1289.1 L572.0,1289.1 Q577.7,1289.1 577.7,1295.6 L577.7,1584.7 Z" fill="url(#fg2)"/>
<rect x="529.3" y="1287.1" width="44.7" height="6" rx="3" fill="#3a4656" opacity="0.85"/>
</g>
<ellipse cx="567.5" cy="1291.0" rx="3.0" ry="2.4" fill="#70808e" filter="url(#bl2)" transform="rotate(-35 567.5 1291.0)"/>
</g>
<clipPath id="cb8"><path d="M578.0,1575.7 L578.0,1271.4 Q578.0,1265.9 584.5,1261.7 L592.5,1255.2 Q594.8,1253.4 598.0,1253.4 L628.9,1253.4 Q636.9,1253.4 636.9,1261.9 L636.9,1568.2 Q636.9,1570.2 635.4,1571.3 L628.7,1576.5 Q624.7,1580.4 618.7,1580.4 L582.0,1580.4 Q578.0,1580.4 578.0,1575.7 Z"/></clipPath>
<g clip-path="url(#cb8)">
<path d="M578.0,1575.7 L578.0,1271.4 Q578.0,1265.9 584.5,1261.7 L592.5,1255.2 Q594.8,1253.4 598.0,1253.4 L628.9,1253.4 Q636.9,1253.4 636.9,1261.9 L636.9,1568.2 Q636.9,1570.2 635.4,1571.3 L628.7,1576.5 Q624.7,1580.4 618.7,1580.4 L582.0,1580.4 Q578.0,1580.4 578.0,1575.7 Z" fill="#1f4e79"/>
<g filter="url(#bl3)">
<path d="M574.0,1275.4 L574.0,1249.4 L640.9,1249.4 L640.9,1256.9 L627.2,1274.4 Z" fill="url(#tg3)"/>
<path d="M574.0,1584.7 L574.0,1274.4 Q574.0,1267.9 582.0,1267.9 L621.7,1267.9 Q627.4,1267.9 627.4,1274.4 L627.4,1584.7 Z" fill="url(#fg3)"/>
<rect x="579.0" y="1265.9" width="44.7" height="6" rx="3" fill="#3a8cd2" opacity="0.85"/>
</g>
<ellipse cx="617.2" cy="1269.8" rx="3.0" ry="2.4" fill="#5cb2fa" filter="url(#bl2)" transform="rotate(-35 617.2 1269.8)"/>
</g>
<clipPath id="cb9"><path d="M701.5,1575.7 L701.5,1449.0 Q701.5,1443.5 708.0,1439.3 L716.0,1432.8 Q718.3,1431.0 721.5,1431.0 L752.4,1431.0 Q760.4,1431.0 760.4,1439.5 L760.4,1568.2 Q760.4,1570.2 758.9,1571.3 L752.2,1576.5 Q748.2,1580.4 742.2,1580.4 L705.5,1580.4 Q701.5,1580.4 701.5,1575.7 Z"/></clipPath>
<g clip-path="url(#cb9)">
<path d="M701.5,1575.7 L701.5,1449.0 Q701.5,1443.5 708.0,1439.3 L716.0,1432.8 Q718.3,1431.0 721.5,1431.0 L752.4,1431.0 Q760.4,1431.0 760.4,1439.5 L760.4,1568.2 Q760.4,1570.2 758.9,1571.3 L752.2,1576.5 Q748.2,1580.4 742.2,1580.4 L705.5,1580.4 Q701.5,1580.4 701.5,1575.7 Z" fill="#a8a8a6"/>
<g filter="url(#bl3)">
<path d="M697.5,1453.0 L697.5,1427.0 L764.4,1427.0 L764.4,1434.5 L750.7,1452.0 Z" fill="url(#tg0)"/>
<path d="M697.5,1584.7 L697.5,1452.0 Q697.5,1445.5 705.5,1445.5 L745.2,1445.5 Q750.9,1445.5 750.9,1452.0 L750.9,1584.7 Z" fill="url(#fg0)"/>
<rect x="702.5" y="1443.5" width="44.7" height="6" rx="3" fill="#e2e2e0" opacity="0.85"/>
</g>
<ellipse cx="740.7" cy="1447.4" rx="3.0" ry="2.4" fill="#f4f4f2" filter="url(#bl2)" transform="rotate(-35 740.7 1447.4)"/>
</g>
<clipPath id="cb10"><path d="M751.2,1575.7 L751.2,1154.5 Q751.2,1149.0 757.7,1144.8 L765.7,1138.3 Q768.0,1136.5 771.2,1136.5 L802.1,1136.5 Q810.1,1136.5 810.1,1145.0 L810.1,1568.2 Q810.1,1570.2 808.6,1571.3 L801.9,1576.5 Q797.9,1580.4 791.9,1580.4 L755.2,1580.4 Q751.2,1580.4 751.2,1575.7 Z"/></clipPath>
<g clip-path="url(#cb10)">
<path d="M751.2,1575.7 L751.2,1154.5 Q751.2,1149.0 757.7,1144.8 L765.7,1138.3 Q768.0,1136.5 771.2,1136.5 L802.1,1136.5 Q810.1,1136.5 810.1,1145.0 L810.1,1568.2 Q810.1,1570.2 808.6,1571.3 L801.9,1576.5 Q797.9,1580.4 791.9,1580.4 L755.2,1580.4 Q751.2,1580.4 751.2,1575.7 Z" fill="#8a0000"/>
<g filter="url(#bl3)">
<path d="M747.2,1158.5 L747.2,1132.5 L814.1,1132.5 L814.1,1140.0 L800.4,1157.5 Z" fill="url(#tg1)"/>
<path d="M747.2,1584.7 L747.2,1157.5 Q747.2,1151.0 755.2,1151.0 L794.9,1151.0 Q800.6,1151.0 800.6,1157.5 L800.6,1584.7 Z" fill="url(#fg1)"/>
<rect x="752.2" y="1149.0" width="44.7" height="6" rx="3" fill="#dc0404" opacity="0.85"/>
</g>
<ellipse cx="790.4" cy="1152.9" rx="3.0" ry="2.4" fill="#ff3a30" filter="url(#bl2)" transform="rotate(-35 790.4 1152.9)"/>
</g>
<clipPath id="cb11"><path d="M800.9,1575.7 L800.9,1140.8 Q800.9,1135.3 807.4,1131.1 L815.4,1124.6 Q817.7,1122.8 820.9,1122.8 L851.8,1122.8 Q859.8,1122.8 859.8,1131.3 L859.8,1568.2 Q859.8,1570.2 858.3,1571.3 L851.6,1576.5 Q847.6,1580.4 841.6,1580.4 L804.9,1580.4 Q800.9,1580.4 800.9,1575.7 Z"/></clipPath>
<g clip-path="url(#cb11)">
<path d="M800.9,1575.7 L800.9,1140.8 Q800.9,1135.3 807.4,1131.1 L815.4,1124.6 Q817.7,1122.8 820.9,1122.8 L851.8,1122.8 Q859.8,1122.8 859.8,1131.3 L859.8,1568.2 Q859.8,1570.2 858.3,1571.3 L851.6,1576.5 Q847.6,1580.4 841.6,1580.4 L804.9,1580.4 Q800.9,1580.4 800.9,1575.7 Z" fill="#242c38"/>
<g filter="url(#bl3)">
<path d="M796.9,1144.8 L796.9,1118.8 L863.8,1118.8 L863.8,1126.3 L850.1,1143.8 Z" fill="url(#tg2)"/>
<path d="M796.9,1584.7 L796.9,1143.8 Q796.9,1137.3 804.9,1137.3 L844.6,1137.3 Q850.3,1137.3 850.3,1143.8 L850.3,1584.7 Z" fill="url(#fg2)"/>
<rect x="801.9" y="1135.3" width="44.7" height="6" rx="3" fill="#3a4656" opacity="0.85"/>
</g>
<ellipse cx="840.1" cy="1139.2" rx="3.0" ry="2.4" fill="#70808e" filter="url(#bl2)" transform="rotate(-35 840.1 1139.2)"/>
</g>
<clipPath id="cb12"><path d="M850.6,1575.7 L850.6,1109.6 Q850.6,1104.1 857.1,1099.9 L865.1,1093.4 Q867.4,1091.6 870.6,1091.6 L901.5,1091.6 Q909.5,1091.6 909.5,1100.1 L909.5,1568.2 Q909.5,1570.2 908.0,1571.3 L901.3,1576.5 Q897.3,1580.4 891.3,1580.4 L854.6,1580.4 Q850.6,1580.4 850.6,1575.7 Z"/></clipPath>
<g clip-path="url(#cb12)">
<path d="M850.6,1575.7 L850.6,1109.6 Q850.6,1104.1 857.1,1099.9 L865.1,1093.4 Q867.4,1091.6 870.6,1091.6 L901.5,1091.6 Q909.5,1091.6 909.5,1100.1 L909.5,1568.2 Q909.5,1570.2 908.0,1571.3 L901.3,1576.5 Q897.3,1580.4 891.3,1580.4 L854.6,1580.4 Q850.6,1580.4 850.6,1575.7 Z" fill="#1f4e79"/>
<g filter="url(#bl3)">
<path d="M846.6,1113.6 L846.6,1087.6 L913.5,1087.6 L913.5,1095.1 L899.8,1112.6 Z" fill="url(#tg3)"/>
<path d="M846.6,1584.7 L846.6,1112.6 Q846.6,1106.1 854.6,1106.1 L894.3,1106.1 Q900.0,1106.1 900.0,1112.6 L900.0,1584.7 Z" fill="url(#fg3)"/>
<rect x="851.6" y="1104.1" width="44.7" height="6" rx="3" fill="#3a8cd2" opacity="0.85"/>
</g>
<ellipse cx="889.8" cy="1108.0" rx="3.0" ry="2.4" fill="#5cb2fa" filter="url(#bl2)" transform="rotate(-35 889.8 1108.0)"/>
</g>
<clipPath id="cb13"><path d="M974.1,1575.7 L974.1,1398.0 Q974.1,1392.5 980.6,1388.3 L988.6,1381.8 Q990.9,1380.0 994.1,1380.0 L1025.0,1380.0 Q1033.0,1380.0 1033.0,1388.5 L1033.0,1568.2 Q1033.0,1570.2 1031.5,1571.3 L1024.8,1576.5 Q1020.8,1580.4 1014.8,1580.4 L978.1,1580.4 Q974.1,1580.4 974.1,1575.7 Z"/></clipPath>
<g clip-path="url(#cb13)">
<path d="M974.1,1575.7 L974.1,1398.0 Q974.1,1392.5 980.6,1388.3 L988.6,1381.8 Q990.9,1380.0 994.1,1380.0 L1025.0,1380.0 Q1033.0,1380.0 1033.0,1388.5 L1033.0,1568.2 Q1033.0,1570.2 1031.5,1571.3 L1024.8,1576.5 Q1020.8,1580.4 1014.8,1580.4 L978.1,1580.4 Q974.1,1580.4 974.1,1575.7 Z" fill="#a8a8a6"/>
<g filter="url(#bl3)">
<path d="M970.1,1402.0 L970.1,1376.0 L1037.0,1376.0 L1037.0,1383.5 L1023.3,1401.0 Z" fill="url(#tg0)"/>
<path d="M970.1,1584.7 L970.1,1401.0 Q970.1,1394.5 978.1,1394.5 L1017.8,1394.5 Q1023.5,1394.5 1023.5,1401.0 L1023.5,1584.7 Z" fill="url(#fg0)"/>
<rect x="975.1" y="1392.5" width="44.7" height="6" rx="3" fill="#e2e2e0" opacity="0.85"/>
</g>
<ellipse cx="1013.3" cy="1396.4" rx="3.0" ry="2.4" fill="#f4f4f2" filter="url(#bl2)" transform="rotate(-35 1013.3 1396.4)"/>
</g>
<clipPath id="cb14"><path d="M1023.8,1575.7 L1023.8,1031.9 Q1023.8,1026.4 1030.3,1022.2 L1038.3,1015.7 Q1040.6,1013.9 1043.8,1013.9 L1074.7,1013.9 Q1082.7,1013.9 1082.7,1022.4 L1082.7,1568.2 Q1082.7,1570.2 1081.2,1571.3 L1074.5,1576.5 Q1070.5,1580.4 1064.5,1580.4 L1027.8,1580.4 Q1023.8,1580.4 1023.8,1575.7 Z"/></clipPath>
<g clip-path="url(#cb14)">
<path d="M1023.8,1575.7 L1023.8,1031.9 Q1023.8,1026.4 1030.3,1022.2 L1038.3,1015.7 Q1040.6,1013.9 1043.8,1013.9 L1074.7,1013.9 Q1082.7,1013.9 1082.7,1022.4 L1082.7,1568.2 Q1082.7,1570.2 1081.2,1571.3 L1074.5,1576.5 Q1070.5,1580.4 1064.5,1580.4 L1027.8,1580.4 Q1023.8,1580.4 1023.8,1575.7 Z" fill="#8a0000"/>
<g filter="url(#bl3)">
<path d="M1019.8,1035.9 L1019.8,1009.9 L1086.7,1009.9 L1086.7,1017.4 L1073.0,1034.9 Z" fill="url(#tg1)"/>
<path d="M1019.8,1584.7 L1019.8,1034.9 Q1019.8,1028.4 1027.8,1028.4 L1067.5,1028.4 Q1073.2,1028.4 1073.2,1034.9 L1073.2,1584.7 Z" fill="url(#fg1)"/>
<rect x="1024.8" y="1026.4" width="44.7" height="6" rx="3" fill="#dc0404" opacity="0.85"/>
</g>
<ellipse cx="1063.0" cy="1030.3" rx="3.0" ry="2.4" fill="#ff3a30" filter="url(#bl2)" transform="rotate(-35 1063.0 1030.3)"/>
</g>
<clipPath id="cb15"><path d="M1073.5,1575.7 L1073.5,1016.5 Q1073.5,1011.0 1080.0,1006.8 L1088.0,1000.3 Q1090.3,998.5 1093.5,998.5 L1124.4,998.5 Q1132.4,998.5 1132.4,1007.0 L1132.4,1568.2 Q1132.4,1570.2 1130.9,1571.3 L1124.2,1576.5 Q1120.2,1580.4 1114.2,1580.4 L1077.5,1580.4 Q1073.5,1580.4 1073.5,1575.7 Z"/></clipPath>
<g clip-path="url(#cb15)">
<path d="M1073.5,1575.7 L1073.5,1016.5 Q1073.5,1011.0 1080.0,1006.8 L1088.0,1000.3 Q1090.3,998.5 1093.5,998.5 L1124.4,998.5 Q1132.4,998.5 1132.4,1007.0 L1132.4,1568.2 Q1132.4,1570.2 1130.9,1571.3 L1124.2,1576.5 Q1120.2,1580.4 1114.2,1580.4 L1077.5,1580.4 Q1073.5,1580.4 1073.5,1575.7 Z" fill="#242c38"/>
<g filter="url(#bl3)">
<path d="M1069.5,1020.5 L1069.5,994.5 L1136.4,994.5 L1136.4,1002.0 L1122.7,1019.5 Z" fill="url(#tg2)"/>
<path d="M1069.5,1584.7 L1069.5,1019.5 Q1069.5,1013.0 1077.5,1013.0 L1117.2,1013.0 Q1122.9,1013.0 1122.9,1019.5 L1122.9,1584.7 Z" fill="url(#fg2)"/>
<rect x="1074.5" y="1011.0" width="44.7" height="6" rx="3" fill="#3a4656" opacity="0.85"/>
</g>
<ellipse cx="1112.7" cy="1014.9" rx="3.0" ry="2.4" fill="#70808e" filter="url(#bl2)" transform="rotate(-35 1112.7 1014.9)"/>
</g>
<clipPath id="cb16"><path d="M1123.2,1575.7 L1123.2,965.0 Q1123.2,959.5 1129.7,955.3 L1137.7,948.8 Q1140.0,947.0 1143.2,947.0 L1174.1,947.0 Q1182.1,947.0 1182.1,955.5 L1182.1,1568.2 Q1182.1,1570.2 1180.6,1571.3 L1173.9,1576.5 Q1169.9,1580.4 1163.9,1580.4 L1127.2,1580.4 Q1123.2,1580.4 1123.2,1575.7 Z"/></clipPath>
<g clip-path="url(#cb16)">
<path d="M1123.2,1575.7 L1123.2,965.0 Q1123.2,959.5 1129.7,955.3 L1137.7,948.8 Q1140.0,947.0 1143.2,947.0 L1174.1,947.0 Q1182.1,947.0 1182.1,955.5 L1182.1,1568.2 Q1182.1,1570.2 1180.6,1571.3 L1173.9,1576.5 Q1169.9,1580.4 1163.9,1580.4 L1127.2,1580.4 Q1123.2,1580.4 1123.2,1575.7 Z" fill="#1f4e79"/>
<g filter="url(#bl3)">
<path d="M1119.2,969.0 L1119.2,943.0 L1186.1,943.0 L1186.1,950.5 L1172.4,968.0 Z" fill="url(#tg3)"/>
<path d="M1119.2,1584.7 L1119.2,968.0 Q1119.2,961.5 1127.2,961.5 L1166.9,961.5 Q1172.6,961.5 1172.6,968.0 L1172.6,1584.7 Z" fill="url(#fg3)"/>
<rect x="1124.2" y="959.5" width="44.7" height="6" rx="3" fill="#3a8cd2" opacity="0.85"/>
</g>
<ellipse cx="1162.4" cy="963.4" rx="3.0" ry="2.4" fill="#5cb2fa" filter="url(#bl2)" transform="rotate(-35 1162.4 963.4)"/>
</g>
<rect x="241.5" y="984" width="200.7" height="275.4" fill="#fff" stroke="#0d0d0d" stroke-width="2.2"/>
<g font-family='"Liberation Serif", serif' font-size="34.5" fill="#111">
<path d="M293.2,1009.7 L311.2,1009.7 L302.2,1018.1 Z" fill="#dededc"/>
<path d="M311.2,1009.7 L311.2,1026.5 L302.2,1018.1 Z" fill="#c2c2c0"/>
<path d="M311.2,1026.5 L293.2,1026.5 L302.2,1018.1 Z" fill="#a6a6a4"/>
<path d="M293.2,1026.5 L293.2,1009.7 L302.2,1018.1 Z" fill="#c6c6c4"/>
<text x="317.8" y="1029.8" textLength="80.8" lengthAdjust="spacingAndGlyphs">case 1</text>
<path d="M293.2,1079.0 L311.2,1079.0 L302.2,1087.4 Z" fill="#e00a0a"/>
<path d="M311.2,1079.0 L311.2,1095.8 L302.2,1087.4 Z" fill="#b80000"/>
<path d="M311.2,1095.8 L293.2,1095.8 L302.2,1087.4 Z" fill="#8a0000"/>
<path d="M293.2,1095.8 L293.2,1079.0 L302.2,1087.4 Z" fill="#c40000"/>
<text x="317.8" y="1099.0" textLength="80.8" lengthAdjust="spacingAndGlyphs">case 2</text>
<path d="M293.2,1148.3 L311.2,1148.3 L302.2,1156.7 Z" fill="#3c4858"/>
<path d="M311.2,1148.3 L311.2,1165.1 L302.2,1156.7 Z" fill="#2c3644"/>
<path d="M311.2,1165.1 L293.2,1165.1 L302.2,1156.7 Z" fill="#202833"/>
<path d="M293.2,1165.1 L293.2,1148.3 L302.2,1156.7 Z" fill="#323e4e"/>
<text x="317.8" y="1168.2" textLength="80.8" lengthAdjust="spacingAndGlyphs">case 3</text>
<path d="M293.2,1217.6 L311.2,1217.6 L302.2,1226.0 Z" fill="#3a8ad0"/>
<path d="M311.2,1217.6 L311.2,1234.4 L302.2,1226.0 Z" fill="#2a6cab"/>
<path d="M311.2,1234.4 L293.2,1234.4 L302.2,1226.0 Z" fill="#1f5288"/>
<path d="M293.2,1234.4 L293.2,1217.6 L302.2,1226.0 Z" fill="#2e78ba"/>
<text x="317.8" y="1237.4" textLength="80.8" lengthAdjust="spacingAndGlyphs">case 4</text>
</g>
<g font-family='"Liberation Serif", serif' font-weight="bold" font-size="22.5" fill="#111">
<text x="83" y="1597.4" text-anchor="end">0</text>
<text x="83" y="1534.9" text-anchor="end">0.1</text>
<text x="83" y="1472.4" text-anchor="end">0.2</text>
<text x="83" y="1409.9" text-anchor="end">0.3</text>
<text x="83" y="1347.4" text-anchor="end">0.4</text>
<text x="83" y="1284.9" text-anchor="end">0.5</text>
<text x="83" y="1222.4" text-anchor="end">0.6</text>
<text x="83" y="1159.9" text-anchor="end">0.7</text>
<text x="83" y="1097.4" text-anchor="end">0.8</text>
<text x="83" y="1034.9" text-anchor="end">0.9</text>
<text x="83" y="972.4" text-anchor="end">1</text>
</g>
<g font-family='"Liberation Serif", serif' font-weight="bold" font-size="25" fill="#111" text-anchor="middle">
<text x="239.6" y="1627.3">10</text>
<text x="512.2" y="1627.3">20</text>
<text x="784.9" y="1627.3">30</text>
<text x="1057.5" y="1627.3">40</text>
</g>
<text x="648.8" y="1653.5" text-anchor="middle" font-family='"Liberation Serif", serif' font-weight="bold" font-size="24.5" fill="#111">Time [Min]</text>
<text transform="translate(26.3,1243.2) rotate(-90)" text-anchor="middle" font-family='"Liberation Serif", serif' font-weight="bold" font-size="25.2" fill="#111">Liquid fraction</text>
</g>
</g>
</svg>
</body></html>
